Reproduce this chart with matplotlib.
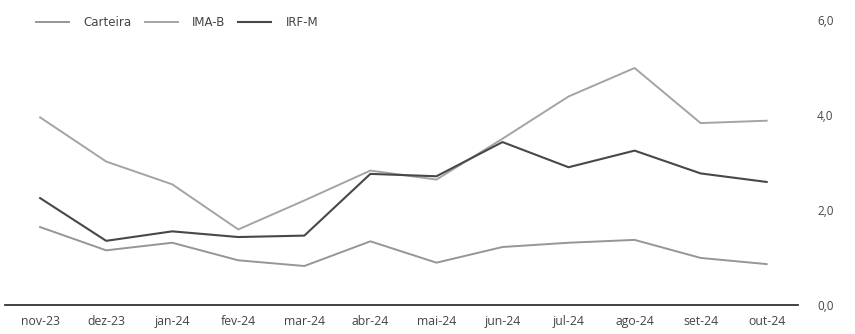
import matplotlib.pyplot as plt
from matplotlib.ticker import FuncFormatter

# Monthly values
months = ['nov-23', 'dez-23', 'jan-24', 'fev-24', 'mar-24', 'abr-24',
          'mai-24', 'jun-24', 'jul-24', 'ago-24', 'set-24', 'out-24']
carteira = [1.64, 1.15, 1.31, 0.94, 0.82, 1.34, 0.89, 1.22, 1.31, 1.37, 0.99, 0.86]
ima_b = [3.95, 3.02, 2.54, 1.59, 2.20, 2.83, 2.64, 3.50, 4.39, 4.99, 3.83, 3.88]
irf_m = [2.25, 1.35, 1.55, 1.43, 1.46, 2.76, 2.71, 3.43, 2.90, 3.25, 2.77, 2.59]
y_ticks = [0, 2, 4, 6]

fig = plt.figure(figsize=(8.55, 3.34), dpi=100)
ax = fig.add_axes([0.006, 0.087, 0.927, 0.853])

x = range(len(months))
ax.plot(x, carteira, color='#969696', lw=1.4, label='Carteira')
ax.plot(x, ima_b, color='#a4a4a4', lw=1.4, label='IMA-B')
ax.plot(x, irf_m, color='#484848', lw=1.5, label='IRF-M')

ax.set_xlim(-0.53, 11.47)
ax.set_ylim(0, 6)
ax.set_xticks(list(x))
ax.set_xticklabels(months, fontsize=8.8, color='#444444', family='Open Sans')
ax.set_yticks(y_ticks)
ax.yaxis.set_major_formatter(FuncFormatter(lambda v, p: f'{v:.1f}'.replace('.', ',')))
ax.yaxis.tick_right()
ax.tick_params(axis='y', length=0, pad=14, labelsize=8.5, labelcolor='#444444')
ax.tick_params(axis='x', length=0, pad=7)
for lab in ax.get_yticklabels():
    lab.set_family('Open Sans')

for s in ['top', 'left', 'right']:
    ax.spines[s].set_visible(False)
ax.spines['bottom'].set_color('#333333')
ax.spines['bottom'].set_linewidth(1.3)

fig.legend(loc='upper left', bbox_to_anchor=(0.03, 0.985), ncol=3, frameon=False,
           fontsize=8.5, handlelength=2.8, handletextpad=1.2, columnspacing=1.1,
           labelcolor='#444444')

plt.savefig('out.png', dpi=100)
